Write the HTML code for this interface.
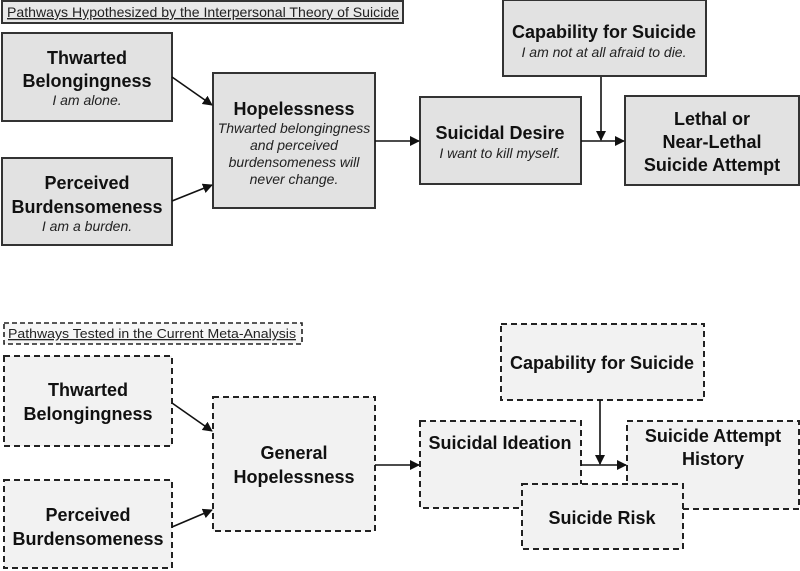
<!DOCTYPE html>
<html><head><meta charset="utf-8"><style>
html,body{margin:0;padding:0;background:#fff;}
svg{display:block;font-family:"Liberation Sans",Arial,sans-serif;}
.b{font-weight:bold;font-size:18px;fill:#111;}
.i{font-style:italic;font-size:14px;fill:#222;}
.s{fill:#e2e2e2;stroke:#333;stroke-width:2;}
.d{fill:#f2f2f2;stroke:#222;stroke-width:2;stroke-dasharray:6,4;}
.l{stroke:#111;stroke-width:1.6;fill:none;}
</style></head><body>
<svg width="800" height="571" viewBox="0 0 800 571">
<defs><marker id="a" markerWidth="10" markerHeight="10" refX="9" refY="5" orient="auto" markerUnits="userSpaceOnUse"><path d="M0,0 L10,5 L0,10 z" fill="#111"/></marker></defs>
<!-- top -->
<rect x="2" y="1" width="401" height="22" fill="#e8e8e8" stroke="#333" stroke-width="2"/>
<text x="7" y="17" font-size="14" fill="#222" text-decoration="underline" textLength="392" lengthAdjust="spacingAndGlyphs">Pathways Hypothesized by the Interpersonal Theory of Suicide</text>
<rect class="s" x="2" y="33" width="170" height="88"/>
<text class="b" text-anchor="middle" x="87" y="64">Thwarted</text>
<text class="b" text-anchor="middle" x="87" y="87">Belongingness</text>
<text class="i" text-anchor="middle" x="87" y="105">I am alone.</text>
<rect class="s" x="2" y="158" width="170" height="87"/>
<text class="b" text-anchor="middle" x="87" y="189">Perceived</text>
<text class="b" text-anchor="middle" x="87" y="213">Burdensomeness</text>
<text class="i" text-anchor="middle" x="87" y="231">I am a burden.</text>
<rect class="s" x="213" y="73" width="162" height="135"/>
<text class="b" text-anchor="middle" x="294" y="115">Hopelessness</text>
<text class="i" text-anchor="middle" x="294" y="133">Thwarted belongingness</text>
<text class="i" text-anchor="middle" x="294" y="150">and perceived</text>
<text class="i" text-anchor="middle" x="294" y="167">burdensomeness will</text>
<text class="i" text-anchor="middle" x="294" y="184">never change.</text>
<rect class="s" x="420" y="97" width="161" height="87"/>
<text class="b" text-anchor="middle" x="500" y="139">Suicidal Desire</text>
<text class="i" text-anchor="middle" x="500" y="158">I want to kill myself.</text>
<rect class="s" x="503" y="0" width="203" height="76"/>
<text class="b" text-anchor="middle" x="604" y="38">Capability for Suicide</text>
<text class="i" text-anchor="middle" x="604" y="57">I am not at all afraid to die.</text>
<rect class="s" x="625" y="96" width="174" height="89"/>
<text class="b" text-anchor="middle" x="712" y="125">Lethal or</text>
<text class="b" text-anchor="middle" x="712" y="148">Near-Lethal</text>
<text class="b" text-anchor="middle" x="712" y="171">Suicide Attempt</text>
<line class="l" x1="172" y1="77" x2="212" y2="105" marker-end="url(#a)"/>
<line class="l" x1="172" y1="201" x2="212" y2="185" marker-end="url(#a)"/>
<line class="l" x1="375" y1="141" x2="419" y2="141" marker-end="url(#a)"/>
<line class="l" x1="581" y1="141" x2="624" y2="141" marker-end="url(#a)"/>
<line class="l" x1="601" y1="77" x2="601" y2="140" marker-end="url(#a)"/>
<!-- bottom -->
<rect x="4" y="323" width="298" height="21" fill="#f6f6f6" stroke="#222" stroke-width="1.6" stroke-dasharray="5,3"/>
<text x="8" y="338" font-size="13" fill="#222" text-decoration="underline" textLength="288" lengthAdjust="spacingAndGlyphs">Pathways Tested in the Current Meta-Analysis</text>
<rect class="d" x="4" y="356" width="168" height="90"/>
<text class="b" text-anchor="middle" x="88" y="396">Thwarted</text>
<text class="b" text-anchor="middle" x="88" y="420">Belongingness</text>
<rect class="d" x="4" y="480" width="168" height="88"/>
<text class="b" text-anchor="middle" x="88" y="521">Perceived</text>
<text class="b" text-anchor="middle" x="88" y="545">Burdensomeness</text>
<rect class="d" x="213" y="397" width="162" height="134"/>
<text class="b" text-anchor="middle" x="294" y="459">General</text>
<text class="b" text-anchor="middle" x="294" y="483">Hopelessness</text>
<rect class="d" x="501" y="324" width="203" height="76"/>
<text class="b" text-anchor="middle" x="602" y="369">Capability for Suicide</text>
<rect class="d" x="420" y="421" width="161" height="87"/>
<text class="b" text-anchor="middle" x="500" y="449">Suicidal Ideation</text>
<rect class="d" x="627" y="421" width="172" height="88"/>
<text class="b" text-anchor="middle" x="713" y="442">Suicide Attempt</text>
<text class="b" text-anchor="middle" x="713" y="465">History</text>
<rect class="d" x="522" y="484" width="161" height="65"/>
<text class="b" text-anchor="middle" x="602" y="524">Suicide Risk</text>
<line class="l" x1="172" y1="403" x2="212" y2="431" marker-end="url(#a)"/>
<line class="l" x1="172" y1="527" x2="212" y2="510" marker-end="url(#a)"/>
<line class="l" x1="375" y1="465" x2="419" y2="465" marker-end="url(#a)"/>
<line class="l" x1="581" y1="465" x2="626" y2="465" marker-end="url(#a)"/>
<line class="l" x1="600" y1="400" x2="600" y2="464" marker-end="url(#a)"/>
</svg>
</body></html>
